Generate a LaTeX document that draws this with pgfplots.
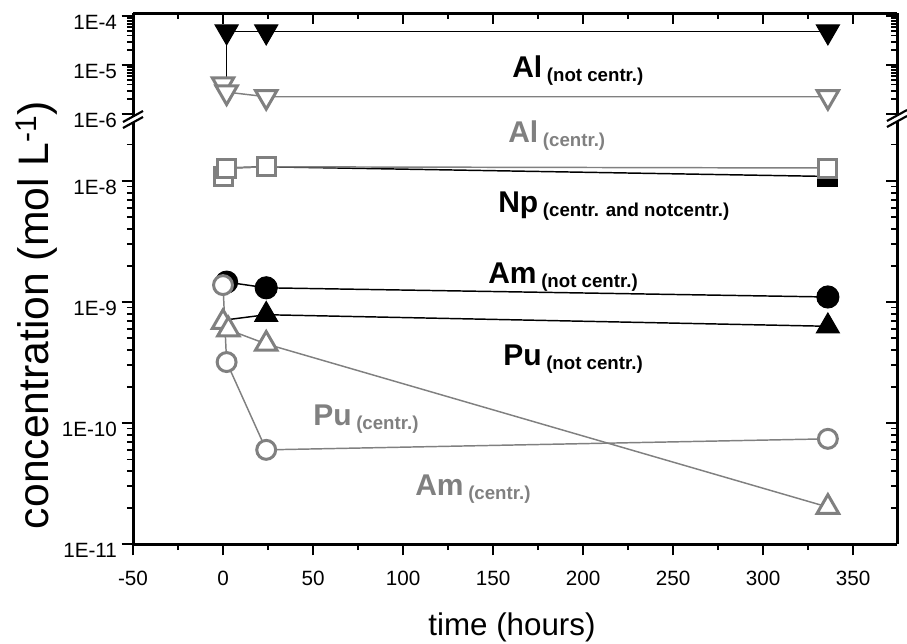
\documentclass[border=0pt]{standalone}
\usepackage{pgfplots}
\pgfplotsset{compat=1.18}
\usepackage{fontspec}
\setmainfont{Liberation Sans}
\definecolor{mygray}{RGB}{128,128,128}
\newcommand{\lab}[2]{{\fontsize{22.5}{27}\selectfont\bfseries #1}\hspace{3.5pt}\raisebox{-3.4pt}{\fontsize{14}{17}\selectfont\bfseries #2}}
\pgfplotsset{
  myaxisbase/.style={
    scale only axis, width=573pt, xmin=-50, xmax=374.4, clip=false,
    axis line style={line width=2.25pt,-},
    tick style={black, line width=1.4pt},
    major tick length=8.5pt, minor tick length=4.5pt,
    xtick={-50,0,50,100,150,200,250,300,350},
    minor xtick={-25,25,75,125,175,225,275,325},
    ticklabel style={font=\fontsize{15.5}{18}\selectfont, text=black},
    yticklabel style={yshift=-5pt},
  },
  mylow/.style={height=317.25pt, at={(99.75pt,-408pt)}, anchor=south west,
    ymin=1e-11, ymax=3.13e-8,
    ytick={1e-11,1e-10,1e-9,1e-8},
    minor ytick={2e-11,3e-11,4e-11,5e-11,6e-11,7e-11,8e-11,9e-11,
                 2e-10,3e-10,4e-10,5e-10,6e-10,7e-10,8e-10,9e-10,
                 2e-9,3e-9,4e-9,5e-9,6e-9,7e-9,8e-9,9e-9,2e-8}},
  myup/.style={height=81pt, at={(99.75pt,-90.75pt)}, anchor=south west,
    ymin=7.2e-7, ymax=1.15e-4,
    ytick={1e-6,1e-5,1e-4},
    minor ytick={2e-6,3e-6,4e-6,5e-6,6e-6,7e-6,8e-6,9e-6,
                 2e-5,3e-5,4e-5,5e-5,6e-5,7e-5,8e-5,9e-5}},
}
\tikzset{
  blk/.style={black, line width=1.1pt, mark options={solid, draw=black, fill=black, line width=0.75pt}},
  gry/.style={mygray, line width=1.1pt, mark options={solid, draw=mygray, fill=white, line width=2.25pt}},
}
\begin{document}
\begin{tikzpicture}
\useasboundingbox (0,0) rectangle (680.25pt,-482.25pt);

% ---------- lower segment ----------
\begin{axis}[ymode=log, myaxisbase, mylow, axis x line*=bottom, axis y line*=left, tick align=outside,
  xticklabels={-50,0,50,100,150,200,250,300,350},
  yticklabels={1E-11,1E-10,1E-9,1E-8},
  xticklabel style={yshift=-8.5pt}]
\addplot[blk, mark=square*, mark size=7.5pt] coordinates {(2,1.28e-8) (24,1.31e-8) (336,1.09e-8)};
\addplot[blk, mark=*, mark size=8.3pt] coordinates {(2,1.46e-9) (24,1.31e-9) (336,1.10e-9)};
\addplot[black, line width=1.1pt, no marks] coordinates {(1,7.1e-10) (24,7.85e-10)};
\addplot[blk, mark=triangle*, mark size=10pt] coordinates {(24,7.85e-10) (336,6.3e-10)};
\addplot[gry, mark=square*, mark size=6.75pt] coordinates {(0,1.08e-8) (2,1.28e-8) (24,1.31e-8) (336,1.28e-8)};
\addplot[gry, mark=*, mark size=7.1pt] coordinates {(0,1.38e-9) (2,3.19e-10) (24,6.0e-11) (336,7.4e-11)};
\addplot[gry, mark=triangle*, mark size=9.3pt] coordinates {(0,6.8e-10) (3,5.9e-10) (24,4.5e-10) (336,2.02e-11)};
\end{axis}
\begin{axis}[ymode=log, myaxisbase, mylow, axis x line=none, axis y line*=right, tick align=inside,
  xtick=\empty, minor xtick=\empty, yticklabels={}]
\addplot[draw=none] coordinates {(0,1e-10)};
\end{axis}

% ---------- upper segment ----------
\begin{axis}[ymode=log, myaxisbase, myup, axis x line=none, axis y line*=left, tick align=outside,
  xtick=\empty, minor xtick=\empty,
  yticklabels={1E-6,1E-5,1E-4}]
\addplot[black, line width=1.1pt, no marks] coordinates {(2,3.4e-6) (2,4.8e-5)};
\addplot[blk, mark=triangle*, mark size=10pt, mark options={solid, draw=black, fill=black, line width=0.75pt, rotate=180}] coordinates {(2,4.8e-5) (24,4.8e-5) (336,4.8e-5)};
\addplot[gry, mark=triangle*, mark size=9.3pt, mark options={solid, draw=mygray, fill=white, line width=2.25pt, rotate=180}] coordinates {(0,4.1e-6) (2,2.8e-6) (24,2.25e-6) (336,2.25e-6)};
\end{axis}
\begin{axis}[ymode=log, myaxisbase, myup, axis x line*=top, axis y line*=right, tick align=inside,
  xticklabels={}, yticklabels={}]
\addplot[draw=none] coordinates {(0,1e-5)};
\end{axis}

\begin{scope}[x=0.75pt,y=-0.75pt]
\foreach \bx/\by in {133/121, 897/120}{
  \fill[white] (\bx-10,\by+1) -- (\bx+10,\by-10) -- (\bx+10,\by-4) -- (\bx-10,\by+7) -- cycle;
  \draw[line width=1.6pt] (\bx-10,\by+1) -- (\bx+10,\by-10);
  \draw[line width=1.6pt] (\bx-10,\by+7) -- (\bx+10,\by-4);
}
\node[rotate=90, font=\fontsize{32}{38}\selectfont] at (37,315) {concentration (mol L\textsuperscript{-1})};
\node[font=\fontsize{23.5}{28}\selectfont] at (512,627) {time (hours)};
\node[anchor=base west, inner sep=0pt, text=black] at (512,77) {\lab{Al}{(not centr.)}};
\node[anchor=base west, inner sep=0pt, text=mygray] at (508,142) {\lab{Al}{(centr.)}};
\node[anchor=base west, inner sep=0pt, text=black] at (498,212) {\lab{Np}{(centr. and notcentr.)}};
\node[anchor=base west, inner sep=0pt, text=black] at (488,283) {\lab{Am}{(not centr.)}};
\node[anchor=base west, inner sep=0pt, text=black] at (503,365) {\lab{Pu}{(not centr.)}};
\node[anchor=base west, inner sep=0pt, text=mygray] at (313,425) {\lab{Pu}{(centr.)}};
\node[anchor=base west, inner sep=0pt, text=mygray] at (415,495) {\lab{Am}{(centr.)}};
\end{scope}
\end{tikzpicture}
\end{document}
